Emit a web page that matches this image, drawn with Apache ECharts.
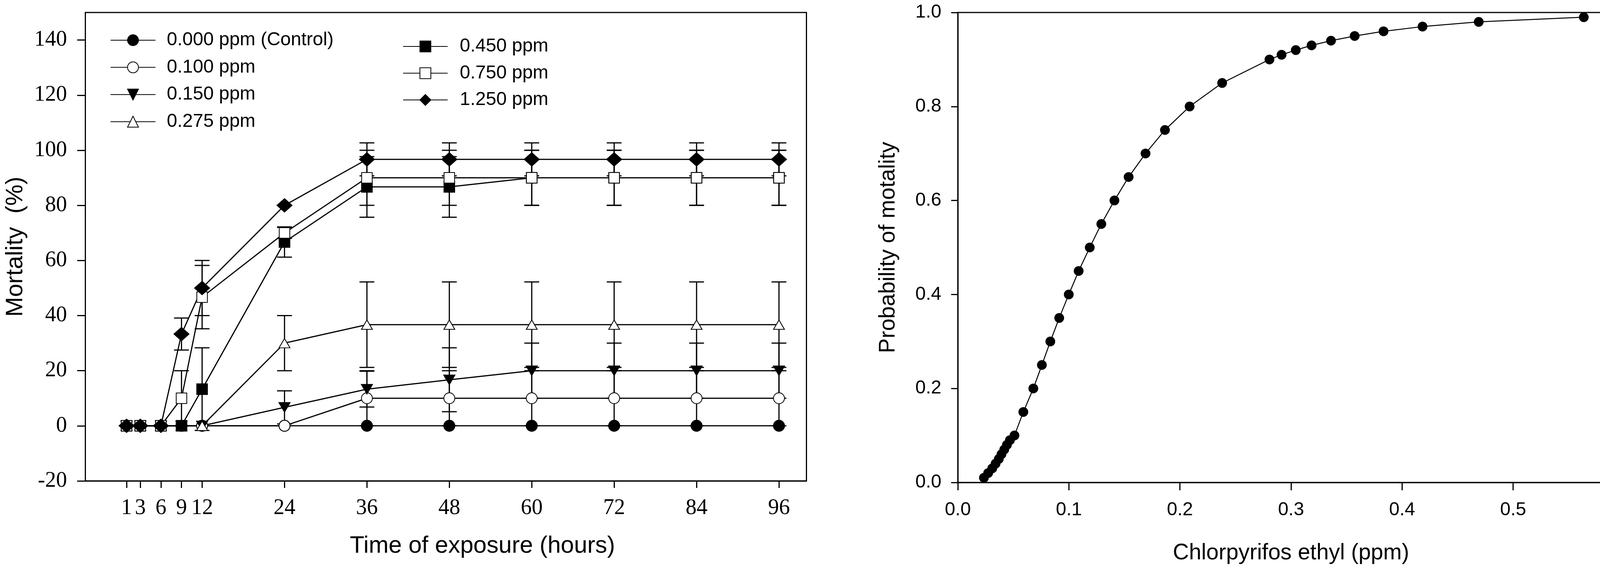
<!DOCTYPE html>
<html>
<head>
<meta charset="utf-8">
<title>Mortality and probit curve</title>
<script src="https://cdn.jsdelivr.net/npm/echarts@6/dist/echarts.min.js"></script>
<style>
  html, body { margin: 0; padding: 0; background: #fff; }
  #chart { width: 4207px; height: 1450px; }
</style>
</head>
<body>
<div id="chart"></div>
<script>
// Left panel: mortality (%) over time for each concentration
const hours = [1, 3, 6, 9, 12, 24, 36, 48, 60, 72, 84, 96];
const concNames = ['0.000 ppm (Control)', '0.100 ppm', '0.150 ppm', '0.275 ppm', '0.450 ppm', '0.750 ppm', '1.250 ppm'];

const mort000 = [0, 0, 0, 0, 0, 0, 0, 0, 0, 0, 0, 0];
const mort100 = [0, 0, 0, 0, 0, 0, 10, 10, 10, 10, 10, 10];
const mort150 = [0, 0, 0, 0, 0, 6.7, 13.3, 16.7, 20, 20, 20, 20];
const mort275 = [0, 0, 0, 0, 0, 30, 36.7, 36.7, 36.7, 36.7, 36.7, 36.7];
const mort450 = [0, 0, 0, 0, 13.3, 66.7, 86.7, 86.7, 90, 90, 90, 90];
const mort750 = [0, 0, 0, 10, 46.7, 70, 90, 90, 90, 90, 90, 90];
const mort1250 = [0, 0, 0, 33.3, 50, 80, 96.7, 96.7, 96.7, 96.7, 96.7, 96.7];

// standard errors
const err000 = [0, 0, 0, 0, 0, 0, 0, 0, 0, 0, 0, 0];
const err100 = [0, 0, 0, 0, 0, 0, 10, 10, 10, 10, 10, 10];
const err150 = [0, 0, 0, 0, 0, 6, 6.5, 11.6, 10, 10, 10, 10];
const err275 = [0, 0, 0, 0, 0, 10, 15.5, 15.5, 15.5, 15.5, 15.5, 15.5];
const err450 = [0, 0, 0, 0, 15, 5.5, 11, 11, 10, 10, 10, 10];
const err750 = [0, 0, 0, 10, 11.5, 2, 10, 10, 10, 10, 10, 10];
const err1250 = [0, 0, 0, 5.8, 10, 0, 6, 6, 6, 6, 6, 6];

const yTicksLeft = [-20, 0, 20, 40, 60, 80, 100, 120, 140];

// Right panel: probability of mortality vs dose
const probLevels = [0.01, 0.02, 0.03, 0.04, 0.05, 0.06, 0.07, 0.08, 0.09, 0.10,
  0.15, 0.20, 0.25, 0.30, 0.35, 0.40, 0.45, 0.50, 0.55, 0.60, 0.65, 0.70, 0.75, 0.80, 0.85,
  0.90, 0.91, 0.92, 0.93, 0.94, 0.95, 0.96, 0.97, 0.98, 0.99];
const doseLevels = [0.0235, 0.0273, 0.0310, 0.0340, 0.0369, 0.0393, 0.0418, 0.0442, 0.0469, 0.0510,
  0.0590, 0.0680, 0.0757, 0.0833, 0.0913, 0.0999, 0.1088, 0.1188, 0.1292, 0.1410, 0.1538, 0.1690, 0.1865, 0.2087, 0.2380,
  0.2806, 0.2915, 0.3043, 0.3185, 0.3360, 0.3573, 0.3833, 0.4184, 0.4690, 0.5636];

const mortSets = [mort000, mort100, mort150, mort275, mort450, mort750, mort1250];
const errSets = [err000, err100, err150, err275, err450, err750, err1250];
const symbols = ['circle', 'emptyCircle', 'path://M0,0L10,0L5,9Z', 'emptyTriangle', 'rect', 'emptyRect', 'diamond'];
const symbolSizes = [28, 28, [28, 24], [28, 24], 27, 27, [38, 34]];

const SANS = 'Liberation Sans';
const SERIF = 'Liberation Serif';
const INK = '#000';

const chart = echarts.init(document.getElementById('chart'), null, { renderer: 'canvas' });

function renderErrorBar(params, api) {
  const x = api.value(0);
  const top = api.coord([x, api.value(2)]);
  const bot = api.coord([x, api.value(1)]);
  const hw = 19;
  const style = { stroke: INK, lineWidth: 3 };
  return {
    type: 'group',
    children: [
      { type: 'line', shape: { x1: top[0], y1: top[1], x2: bot[0], y2: bot[1] }, style: style },
      { type: 'line', shape: { x1: top[0] - hw, y1: top[1], x2: top[0] + hw, y2: top[1] }, style: style },
      { type: 'line', shape: { x1: bot[0] - hw, y1: bot[1], x2: bot[0] + hw, y2: bot[1] }, style: style }
    ]
  };
}

const series = [];

// error bars first so the markers sit on top of them
mortSets.forEach((m, k) => {
  const bars = [];
  hours.forEach((h, i) => {
    if (errSets[k][i] > 0) bars.push([h, m[i] - errSets[k][i], m[i] + errSets[k][i]]);
  });
  series.push({
    type: 'custom',
    name: 'err' + k,
    xAxisIndex: 0,
    yAxisIndex: 0,
    renderItem: renderErrorBar,
    encode: { x: 0, y: [1, 2] },
    data: bars,
    z: 1,
    silent: true
  });
});

mortSets.forEach((m, k) => {
  series.push({
    type: 'line',
    name: concNames[k],
    xAxisIndex: 0,
    yAxisIndex: 0,
    data: hours.map((h, i) => [h, m[i]]),
    symbol: symbols[k],
    symbolSize: symbolSizes[k],
    showAllSymbol: true,
    lineStyle: { color: INK, width: 3 },
    itemStyle: { color: INK, borderColor: INK, borderWidth: 2.5 },
    emphasis: { disabled: true },
    z: 3
  });
});

series.push({
  type: 'line',
  name: 'probit',
  xAxisIndex: 1,
  yAxisIndex: 1,
  data: doseLevels.map((d, i) => [d, probLevels[i]]),
  symbol: 'circle',
  symbolSize: 25,
  showAllSymbol: true,
  lineStyle: { color: INK, width: 2.5 },
  itemStyle: { color: INK },
  emphasis: { disabled: true },
  z: 3
});

const axisLine = { show: true, onZero: false, lineStyle: { color: INK, width: 3 } };

const option = {
  backgroundColor: '#fff',
  animation: false,
  legend: [
    {
      data: concNames.slice(0, 4),
      orient: 'vertical',
      left: 282,
      top: 79,
      padding: 0,
      itemWidth: 115,
      itemHeight: 35,
      itemGap: 21.6,
      selectedMode: false,
      textStyle: { fontFamily: SANS, fontSize: 48, color: INK, padding: [0, 0, 0, 24] }
    },
    {
      data: concNames.slice(4),
      orient: 'vertical',
      left: 1031,
      top: 95,
      padding: 0,
      itemWidth: 114,
      itemHeight: 35,
      itemGap: 20.5,
      selectedMode: false,
      textStyle: { fontFamily: SANS, fontSize: 48, color: INK, padding: [0, 0, 0, 26] }
    }
  ],
  grid: [
    { left: 218.5, top: 32, width: 1846, height: 1200, show: true, borderColor: INK, borderWidth: 3,
      backgroundColor: 'transparent', outerBoundsMode: 'none' },
    { left: 2452, top: 32, width: 1706, height: 1204, show: true, borderColor: INK, borderWidth: 3,
      backgroundColor: 'transparent', outerBoundsMode: 'none' }
  ],
  xAxis: [
    {
      type: 'value', gridIndex: 0, min: -5, max: 100,
      name: 'Time of exposure (hours)', nameLocation: 'middle', nameGap: 137, nameMoveOverlap: false,
      nameTextStyle: { fontFamily: SANS, fontSize: 61, color: INK, padding: [0, 0, 0, 187] },
      axisLine: axisLine,
      axisTick: { show: true, length: 18, lineStyle: { color: INK, width: 3 }, customValues: hours },
      axisLabel: { fontFamily: SERIF, fontSize: 56, color: INK, margin: 42, hideOverlap: false, customValues: hours },
      splitLine: { show: false }
    },
    {
      type: 'value', gridIndex: 1, min: 0, max: 0.6, interval: 0.1,
      name: 'Chlorpyrifos ethyl (ppm)', nameLocation: 'middle', nameGap: 153, nameMoveOverlap: false,
      nameTextStyle: { fontFamily: SANS, fontSize: 57, color: INK },
      axisLine: axisLine,
      axisTick: { show: true, length: 20, lineStyle: { color: INK, width: 3 } },
      axisLabel: { fontFamily: SANS, fontSize: 48, color: INK, margin: 47, hideOverlap: false,
        formatter: v => v.toFixed(1) },
      splitLine: { show: false }
    }
  ],
  yAxis: [
    {
      type: 'value', gridIndex: 0, min: -20, max: 150,
      name: 'Mortality  (%)', nameLocation: 'middle', nameGap: 148, nameMoveOverlap: false,
      nameTextStyle: { fontFamily: SANS, fontSize: 61, color: INK },
      axisLine: axisLine,
      axisTick: { show: true, length: 21, lineStyle: { color: INK, width: 3 }, customValues: yTicksLeft },
      axisLabel: { fontFamily: SERIF, fontSize: 56, color: INK, margin: 47, hideOverlap: false, customValues: yTicksLeft },
      splitLine: { show: false }
    },
    {
      type: 'value', gridIndex: 1, min: 0, max: 1, interval: 0.2,
      name: 'Probability of motality', nameLocation: 'middle', nameGap: 149, nameMoveOverlap: false,
      nameTextStyle: { fontFamily: SANS, fontSize: 57, color: INK },
      axisLine: axisLine,
      axisTick: { show: true, length: 17, lineStyle: { color: INK, width: 3 } },
      axisLabel: { fontFamily: SANS, fontSize: 48, color: INK, margin: 42, hideOverlap: false,
        formatter: v => v.toFixed(1) },
      splitLine: { show: false }
    }
  ],
  series: series
};

chart.setOption(option);
</script>
</body>
</html>
